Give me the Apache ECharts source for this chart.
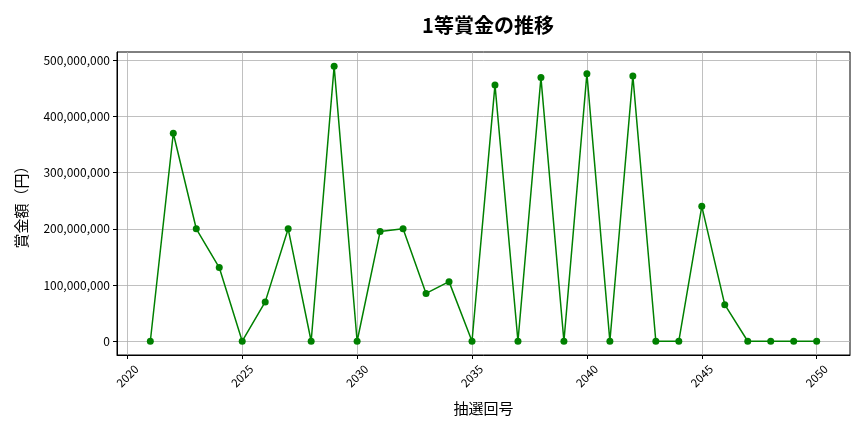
<!DOCTYPE html>
<html><head><meta charset="utf-8">
<script src="https://cdn.jsdelivr.net/npm/echarts@6/dist/echarts.min.js"></script>
<style>html,body{margin:0;padding:0;background:#fff}#c{width:864px;height:432px}</style>
</head><body><div id="c"></div>
<script>
const draws = [2021,2022,2023,2024,2025,2026,2027,2028,2029,2030,2031,2032,2033,2034,2035,2036,2037,2038,2039,2040,2041,2042,2043,2044,2045,2046,2047,2048,2049,2050];
const prize = [0,370000000,200000000,131000000,0,70000000,200000000,0,489000000,0,195000000,200000000,85000000,106000000,0,456000000,0,469000000,0,476000000,0,472000000,0,0,240000000,65000000,0,0,0,0];
const xTicks = [2020,2025,2030,2035,2040,2045,2050];
const yTicks = [0,100000000,200000000,300000000,400000000,500000000];
const FONT = '"Noto Sans CJK JP", "Noto Sans", sans-serif';
const chart = echarts.init(document.getElementById('c'));
chart.setOption({
  animation:false,
  title:{text:'1等賞金の推移',left:483,top:10,textAlign:'center',textStyle:{fontFamily:FONT,fontSize:20,fontWeight:'bold',color:'#000'}},
  grid:{left:117,right:14,top:52,bottom:77,show:true,borderColor:'#000',borderWidth:1,backgroundColor:'transparent'},
  xAxis:{type:'value',min:2019.55,max:2051.45,
    name:'抽選回号',nameLocation:'middle',nameGap:46,nameTextStyle:{fontFamily:FONT,fontSize:15,color:'#000'},
    axisLine:{show:true,onZero:false,lineStyle:{color:'#000'}},
    axisTick:{show:true,customValues:xTicks,length:4,lineStyle:{color:'#000'}},
    axisLabel:{customValues:xTicks,rotate:45,align:'center',verticalAlign:'middle',fontFamily:FONT,fontSize:11.5,color:'#000',margin:21,formatter:v=>String(v)},
    splitLine:{show:true,lineStyle:{color:'#b0b0b0',width:0.8}}},
  yAxis:{type:'value',min:-24500000,max:514500000,
    name:'賞金額（円）',nameLocation:'middle',nameGap:88,nameRotate:90,nameTextStyle:{fontFamily:FONT,fontSize:15,color:'#000'},
    axisLine:{show:true,onZero:false,lineStyle:{color:'#000'}},
    axisTick:{show:true,customValues:yTicks,length:4,lineStyle:{color:'#000'}},
    axisLabel:{customValues:yTicks,fontFamily:FONT,fontSize:12,color:'#000',margin:7,formatter:v=>v.toLocaleString('en-US')},
    splitLine:{show:true,lineStyle:{color:'#b0b0b0',width:0.8}}},
  series:[{type:'line',data:draws.map((d,i)=>[d,prize[i]]),
    lineStyle:{color:'#008000',width:1.5},itemStyle:{color:'#008000'},
    symbol:'circle',symbolSize:7,showSymbol:true}]
});
</script></body></html>
